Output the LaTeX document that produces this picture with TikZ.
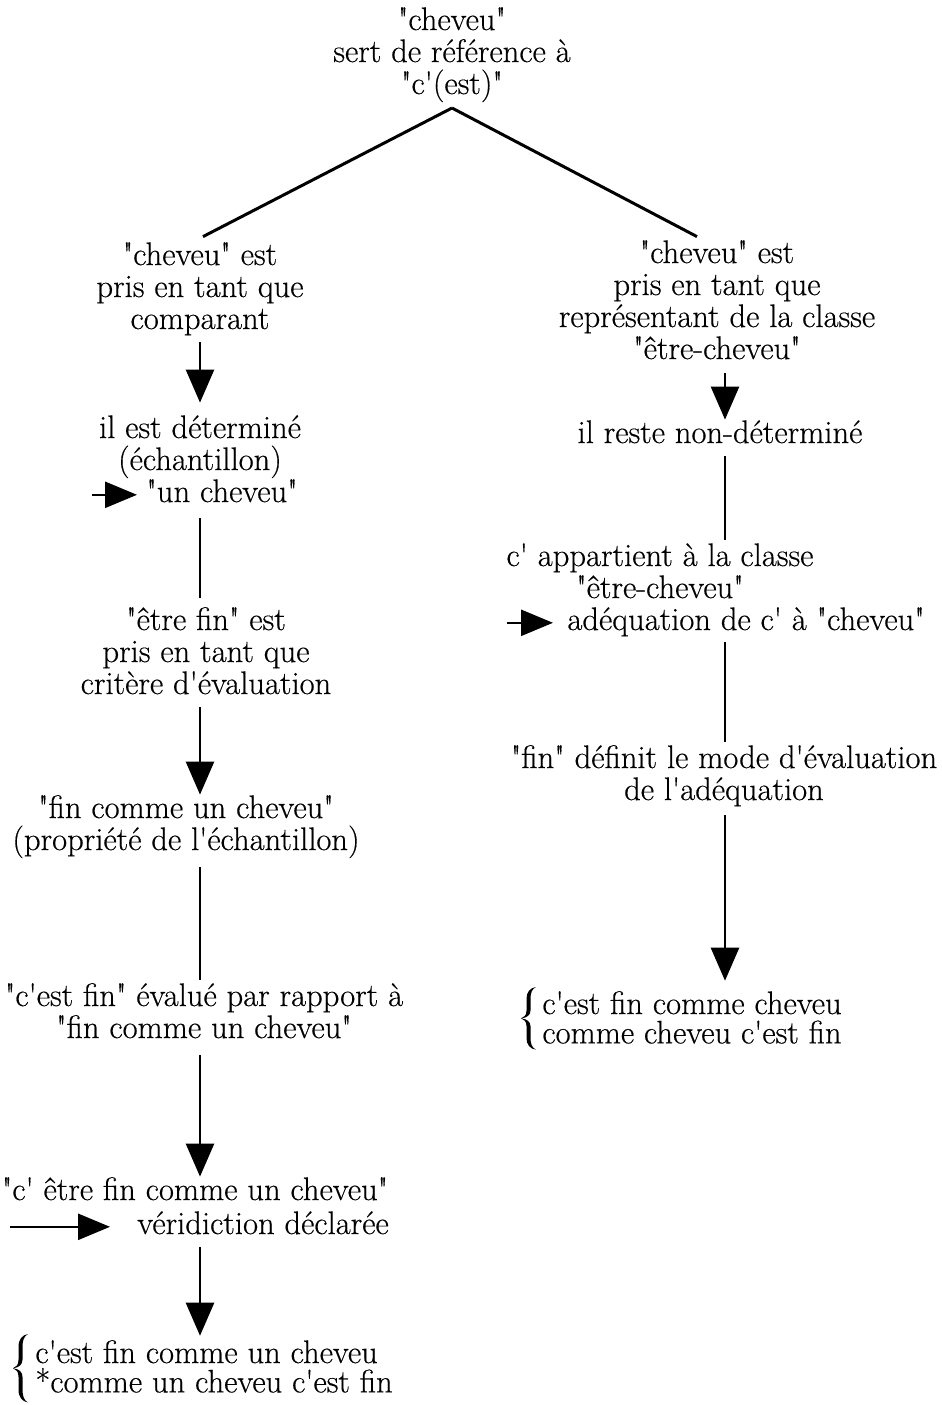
\documentclass[tikz,border=0pt]{standalone}
\usepackage{fontspec}
\newfontfamily\diagfont{Latin Modern Roman}[FakeBold=0.4]
\usetikzlibrary{arrows.meta,calc}
% centred lines (separated by \cr), evenly spaced; the base is the first baseline
\newcommand{\stack}[1]{\vtop{\baselineskip=16pt\lineskiplimit=-\maxdimen
  \halign{\hfil##\hfil\vrule height 12pt depth 4.8pt width 0pt\cr#1\crcr}}}
% two left-aligned lines, a little closer together
\newcommand{\pairlines}[2]{\vtop{\baselineskip=14.7pt\lineskiplimit=-\maxdimen
  \halign{##\hfil\vrule height 11pt depth 4pt width 0pt\cr#1\cr#2\crcr}}}

\begin{document}
\begin{tikzpicture}[x=0.5pt,y=-0.5pt,
  every node/.style={font=\diagfont\fontsize{16.3pt}{16pt}\selectfont, inner sep=0pt},
  lbl/.style={anchor=base},
  lblw/.style={anchor=base west},
  tree/.style={line width=1.5pt},
  link/.style={line width=1.3pt},
  flow/.style={link, -{Triangle[length=16.5pt,width=14pt]}},
  pointer/.style={link, -{Triangle[length=16pt,width=13pt]}},
  curlybrace/.pic={
    \fill (15,0) .. controls (9,1) and (5.5,5) .. (5.5,12) -- (5.5,24)
      .. controls (5.5,29) and (3,31) .. (0,32)
      .. controls (3,33) and (5.5,35) .. (5.5,40) -- (5.5,52)
      .. controls (5.5,59) and (9,63) .. (15,64)
      .. controls (11,62) and (9.5,58) .. (9.5,52) -- (9.5,40)
      .. controls (9.5,35.5) and (6,32.5) .. (0,32)
      .. controls (6,31.5) and (9.5,28.5) .. (9.5,24) -- (9.5,12)
      .. controls (9.5,6) and (11,2) .. (15,0) -- cycle;}]
\useasboundingbox (0,0) rectangle (942,1405);

\coordinate (colL) at (200,0);
\coordinate (colR) at (725,0);
\coordinate (s2) at (92,0);
\coordinate (s3) at (507,0);
\coordinate (s6) at (10,0);

% root
\node[lbl] (top) at (452,30) {\stack{"cheveu"\cr sert de référence à\cr "c'(est)"}};

% left branch
\node[lbl] (l1) at (200,265) {\stack{"cheveu" est\cr pris en tant que\cr comparant}};
\node[lbl] (l2) at (200,438) {\stack{il est déterminé\cr (échantillon)}};
\node[lblw] (l2c) at (146,502) {\stack{"un cheveu"}};
\node[lbl] (l3) at (206,630) {\stack{"être fin" est\cr pris en tant que\cr critère d'évaluation}};
\node[lbl] (l4) at (186,818) {\stack{"fin comme un cheveu"\cr (propriété de l'échantillon)}};
\node[lbl] (l5) at (204,1006) {\stack{"c'est fin" évalué par rapport à\cr "fin comme un cheveu"}};
\node[lbl] (l6) at (195,1200) {\stack{"c' être fin comme un cheveu"}};
\node[lblw] (l6c) at (137,1234) {\stack{véridiction déclarée}};
\node[lblw] (l7) at (35,1363) {\pairlines{c'est fin comme un cheveu}{*comme un cheveu c'est fin}};
\pic[yscale=1.07] (l7brace) at (13,1334) {curlybrace};

% right branch
\node[lbl] (r1) at (717,263) {\stack{"cheveu" est\cr pris en tant que\cr représentant de la classe\cr "être-cheveu"}};
\node[lbl] (r2) at (720,443) {\stack{il reste non-déterminé}};
\node[lbl] (r3) at (660,566) {\stack{c' appartient à la classe\cr "être-cheveu"}};
\node[lblw] (r3c) at (567,630) {\stack{adéquation de c' à "cheveu"}};
\node[lbl] (r4) at (724,768) {\stack{"fin" définit le mode d'évaluation\cr de l'adéquation}};
\node[lblw] (r5) at (542,1014) {\pairlines{c'est fin comme cheveu}{comme cheveu c'est fin}};
\pic[yscale=0.98] (r5brace) at (521,987) {curlybrace};

% the two branches
\coordinate (apex) at ($(top.south)+(0,4)$);
\draw[tree] (apex) -- ($(l1.north)+(3,-4)$);
\draw[tree] (apex) -- ($(r1.north)+(-20,-2)$);

% left chain
\draw[flow, shorten <=1.7pt, shorten >=5.5pt] (l1.south -| colL) -- (l2.north -| colL);
\draw[pointer, shorten >=4.5pt] (s2 |- l2c) -- (l2c.west);
\draw[link, shorten <=3.2pt, shorten >=4pt] (l2c.south -| colL) -- (l3.north -| colL);
\draw[flow, shorten <=1.7pt, shorten >=-0.5pt] (l3.south -| colL) -- (l4.north -| colL);
\draw[link, shorten <=3.7pt, shorten >=1pt] (l4.south -| colL) -- (l5.north -| colL);
\draw[flow, shorten <=3.7pt, shorten >=-0.5pt] (l5.south -| colL) -- (l6.north -| colL);
\draw[pointer, shorten >=13.5pt] (s6 |- l6c) -- (l6c.west);
\draw[flow, shorten <=1.7pt, shorten >=2pt] (l6c.south -| colL) -- (l7.north -| colL);

% right chain
\draw[flow, shorten <=2.2pt, shorten >=-0.5pt] (r1.south -| colR) -- (r2.north -| colR);
\draw[link, shorten <=1.7pt, shorten >=1pt] (r2.south -| colR) -- (r3.north -| colR);
\draw[pointer, shorten >=7pt] (s3 |- r3c) -- (r3c.west);
\draw[link, shorten <=1.2pt, shorten >=1pt] (r3c.south -| colR) -- (r4.north -| colR);
\draw[flow, shorten <=2.7pt, shorten >=5pt] (r4.south -| colR) -- (r5.north -| colR);
\end{tikzpicture}
\end{document}
